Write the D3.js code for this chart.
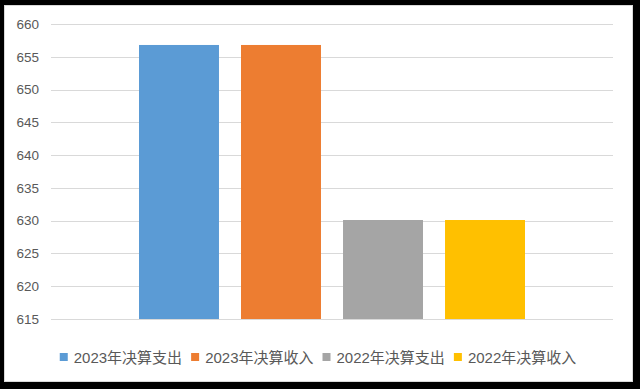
<!DOCTYPE html>
<html>
<head>
    <meta charset="utf-8">
    <script src="https://d3js.org/d3.v7.min.js"></script>
    <style>
        body { margin: 0; background: #000; }
        svg { display: block; }
        text { font-family: "Liberation Sans", Arial, "Noto Sans CJK SC", sans-serif; }
    </style>
</head>
<body>
    <svg id="chart" width="640" height="389"></svg>
    <script>
        const series = ["2023年决算支出", "2023年决算收入", "2022年决算支出", "2022年决算收入"];
        const values = [656.8, 656.8, 630.1, 630.1];
        const colors = ["#5B9BD5", "#ED7D31", "#A5A5A5", "#FFC000"];
        const yTicks = [615, 620, 625, 630, 635, 640, 645, 650, 655, 660];

        const svg = d3.select("#chart");

        // white chart panel on black background
        svg.append("rect")
            .attr("x", 4.5).attr("y", 5.5)
            .attr("width", 628).attr("height", 376)
            .attr("fill", "#fff")
            .attr("stroke", "#d9d9d9");

        const plot = { left: 51, right: 613, top: 24, bottom: 319 };

        const y = d3.scaleLinear()
            .domain([615, 660])
            .range([plot.bottom, plot.top]);

        const x = d3.scaleBand()
            .domain(series)
            .range([139, 525])
            .paddingInner(0.216);

        // gridlines
        svg.append("g")
            .selectAll("line")
            .data(yTicks)
            .join("line")
            .attr("x1", plot.left).attr("x2", plot.right)
            .attr("y1", d => Math.round(y(d)) + 0.5)
            .attr("y2", d => Math.round(y(d)) + 0.5)
            .attr("stroke", "#d9d9d9")
            .attr("stroke-width", 1);

        // y axis labels
        svg.append("g")
            .selectAll("text")
            .data(yTicks)
            .join("text")
            .attr("x", 39)
            .attr("y", d => y(d))
            .attr("dy", "0.35em")
            .attr("text-anchor", "end")
            .attr("fill", "#595959")
            .style("font-size", "13.5px")
            .text(d => d);

        // bars
        svg.append("g")
            .selectAll("rect")
            .data(series)
            .join("rect")
            .attr("x", d => x(d))
            .attr("width", x.bandwidth())
            .attr("y", (d, i) => y(values[i]))
            .attr("height", (d, i) => y(615) - y(values[i]))
            .attr("fill", (d, i) => colors[i]);

        // legend
        const legend = svg.append("g");
        let cx = 0;
        series.forEach((s, i) => {
            const item = legend.append("g").attr("transform", `translate(${cx},0)`);
            item.append("rect")
                .attr("x", 0).attr("y", 353)
                .attr("width", 8).attr("height", 8)
                .attr("fill", colors[i]);
            const t = item.append("text")
                .attr("x", 14).attr("y", 363)
                .attr("fill", "#595959")
                .style("font-size", "15px")
                .text(s);
            cx += 14 + t.node().getComputedTextLength() + 9;
        });
        const legendWidth = cx - 9;
        legend.attr("transform", `translate(${318 - legendWidth / 2},0)`);
    </script>
</body>
</html>
